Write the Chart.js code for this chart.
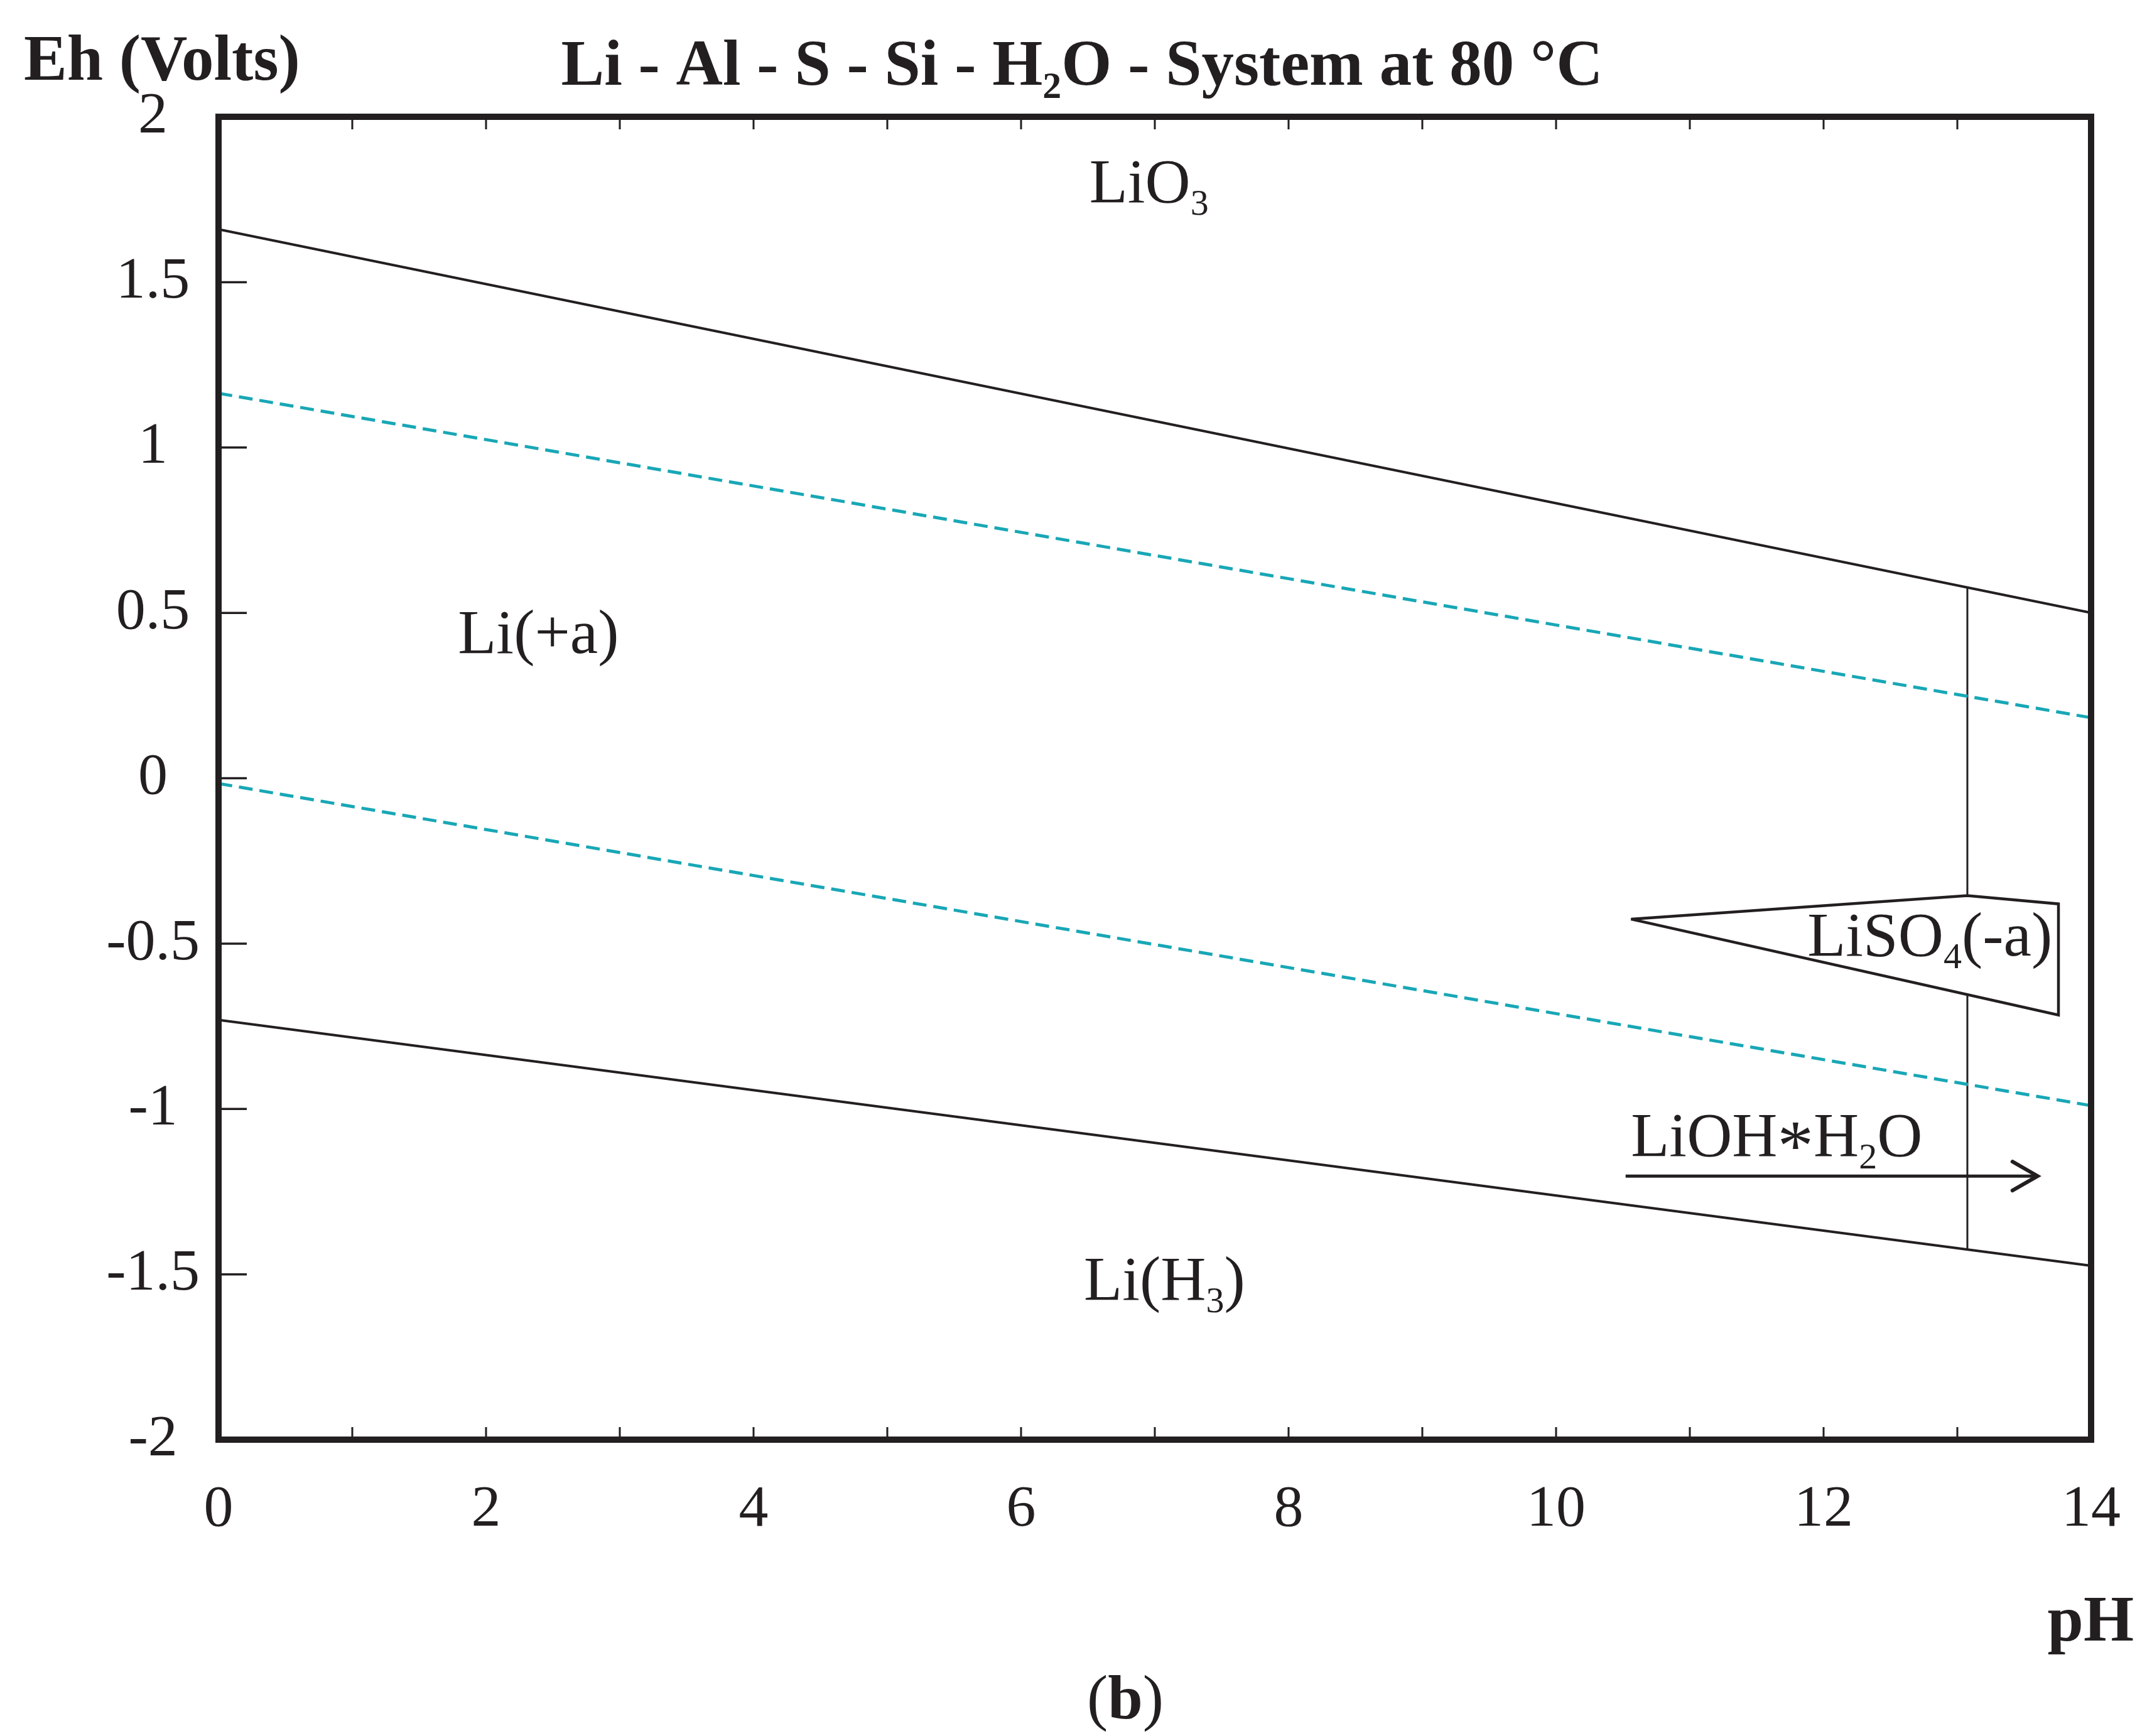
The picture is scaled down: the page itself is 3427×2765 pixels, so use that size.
<!DOCTYPE html>
<html>
<head>
<meta charset="utf-8">
<script src="https://cdn.jsdelivr.net/npm/chart.js@4.4.1/dist/chart.umd.min.js"></script>
<style>
  html, body { margin: 0; padding: 0; background: #ffffff; }
  #c { display: block; }
</style>
</head>
<body>
<canvas id="c" width="3427" height="2765" style="width:3427px;height:2765px"></canvas>
<script>
// ---------------- DATA ----------------
const xTickLabels = ['0', '2', '4', '6', '8', '10', '12', '14'];
const yTickLabels = ['-2', '-1.5', '-1', '-0.5', '0', '0.5', '1', '1.5', '2'];

// stability boundaries (pH, Eh)
const phEnds = [0, 14];
const ehLiO3Boundary = [1.66, 0.50];      // upper solid line
const ehLiH3Boundary = [-0.731, -1.474];  // lower solid line
const ehWaterUpper = [1.164, 0.183];      // dashed O2/H2O line
const ehWaterLower = [-0.016, -0.99];     // dashed H2O/H2 line

const phVertical = [13.075, 13.075];
const ehVerticalUpper = [0.577, -0.355];
const ehVerticalLower = [-0.654, -1.425];

const phLiSO4 = [10.56, 13.075, 13.756, 13.756, 10.56];
const ehLiSO4 = [-0.426, -0.355, -0.380, -0.716, -0.426];

const phArrow = [10.52, 13.60];
const ehArrow = [-1.203, -1.203];

// field labels
const fieldLabels = ['LiO_{3}', 'Li(+a)', 'LiSO_{4}(-a)', 'LiOH*H_{2}O', 'Li(H_{3})'];
const fieldPh = [6.51, 1.79, 13.71, 10.56, 6.47];
const fieldEh = [1.742, 0.379, -0.537, -1.142, -1.577];
const fieldAlign = ['left', 'left', 'right', 'left', 'left'];

const chartTitle = 'Li - Al - S - Si - H_{2}O - System at 80 °C';
const yAxisTitle = 'Eh (Volts)';
const xAxisTitle = 'pH';
const panelTag = '(b)';

// ---------------- HELPERS ----------------
const INK = '#231f20';
const CYAN = '#18a7b6';
const FONT = "'Liberation Serif', 'DejaVu Serif', serif";

function pts(xs, ys) { return xs.map((x, i) => ({ x: x, y: ys[i] })); }

function parseRich(s) {
  const parts = [];
  const re = /_\{([^}]*)\}/g;
  let last = 0, m;
  while ((m = re.exec(s)) !== null) {
    if (m.index > last) parts.push({ t: s.slice(last, m.index) });
    parts.push({ t: m[1], sub: true });
    last = re.lastIndex;
  }
  if (last < s.length) parts.push({ t: s.slice(last) });
  const out = [];
  parts.forEach(p => {
    if (!p.sub && p.t.indexOf('*') >= 0) {
      p.t.split(/(\*)/).forEach(q => { if (q) out.push({ t: q, dy: q === '*' ? 0.22 : 0, big: q === '*' }); });
    } else out.push(p);
  });
  return out;
}

function drawRich(ctx, text, x, y, size, weight, align) {
  const parts = parseRich(text);
  const fontOf = p => weight + ' ' + Math.round(p.sub ? size * 0.58 : (p.big ? size * 1.15 : size)) + 'px ' + FONT;
  let total = 0;
  parts.forEach(p => { ctx.font = fontOf(p); p.w = ctx.measureText(p.t).width; total += p.w; });
  let cx = align === 'center' ? x - total / 2 : (align === 'right' ? x - total : x);
  ctx.textAlign = 'left';
  ctx.textBaseline = 'alphabetic';
  parts.forEach(p => {
    ctx.font = fontOf(p);
    ctx.fillText(p.t, cx, y + (p.sub ? size * 0.2 : 0) + (p.dy || 0) * size);
    cx += p.w;
  });
}

// ---------------- PLUGIN ----------------
const decor = {
  id: 'decor',
  afterDatasetsDraw(chart) {
    const ctx = chart.ctx;
    const a = chart.chartArea;
    const xs = chart.scales.x, ys = chart.scales.y;
    ctx.save();
    ctx.fillStyle = INK;
    ctx.strokeStyle = INK;

    // arrow head at end of the arrow dataset
    const x1 = xs.getPixelForValue(phArrow[0]), y1 = ys.getPixelForValue(ehArrow[0]);
    const x2 = xs.getPixelForValue(phArrow[1]), y2 = ys.getPixelForValue(ehArrow[1]);
    const ang = Math.atan2(y2 - y1, x2 - x1);
    const hl = 40, hw = 23;
    ctx.lineWidth = 6;
    ctx.lineCap = 'round';
    ctx.lineJoin = 'miter';
    ctx.beginPath();
    ctx.moveTo(x2 - hl * Math.cos(ang) + hw * Math.sin(ang), y2 - hl * Math.sin(ang) - hw * Math.cos(ang));
    ctx.lineTo(x2, y2);
    ctx.lineTo(x2 - hl * Math.cos(ang) - hw * Math.sin(ang), y2 - hl * Math.sin(ang) + hw * Math.cos(ang));
    ctx.stroke();

    // frame
    const bw = 10;
    ctx.lineCap = 'butt';
    ctx.lineWidth = bw;
    ctx.strokeRect(a.left, a.top, a.right - a.left, a.bottom - a.top);

    // inward x ticks (top and bottom)
    ctx.lineWidth = 3;
    xs.ticks.forEach(t => {
      if (t.value <= xs.min || t.value >= xs.max) return;
      const px = xs.getPixelForValue(t.value);
      ctx.beginPath();
      ctx.moveTo(px, a.top + bw / 2); ctx.lineTo(px, a.top + bw / 2 + 15);
      ctx.moveTo(px, a.bottom - bw / 2); ctx.lineTo(px, a.bottom - bw / 2 - 15);
      ctx.stroke();
    });
    // inward y ticks (left)
    ctx.lineWidth = 3.5;
    ys.ticks.forEach(t => {
      if (t.value <= ys.min || t.value >= ys.max) return;
      const py = ys.getPixelForValue(t.value);
      ctx.beginPath();
      ctx.moveTo(a.left + bw / 2, py); ctx.lineTo(a.left + bw / 2 + 40, py);
      ctx.stroke();
    });

    // field labels
    fieldLabels.forEach((s, i) => {
      drawRich(ctx, s, xs.getPixelForValue(fieldPh[i]), ys.getPixelForValue(fieldEh[i]), 100, 'normal', fieldAlign[i]);
    });

    // titles
    drawRich(ctx, chartTitle, 1723, 135, 103, 'bold', 'center');
    drawRich(ctx, yAxisTitle, 38, 127, 103, 'bold', 'left');
    drawRich(ctx, xAxisTitle, 3398, 2613, 103, 'bold', 'right');
    // panel tag: "(" regular, "b" bold, ")" regular
    const tagParts = [['(', 'normal'], ['b', 'bold'], [')', 'normal']];
    let tw = 0;
    tagParts.forEach(p => { ctx.font = p[1] + ' 100px ' + FONT; p.push(ctx.measureText(p[0]).width); tw += p[2]; });
    let tx = 1792 - tw / 2;
    ctx.textAlign = 'left';
    tagParts.forEach(p => { ctx.font = p[1] + ' 100px ' + FONT; ctx.fillText(p[0], tx, 2737); tx += p[2]; });
    ctx.restore();
  }
};

// ---------------- CHART ----------------
const solid = (data, w) => ({ data: data, borderColor: INK, borderWidth: w, pointRadius: 0, showLine: true, fill: false, tension: 0 });
const dashed = (data) => ({ data: data, borderColor: CYAN, borderWidth: 5, borderDash: [22, 11], pointRadius: 0, showLine: true, fill: false, tension: 0 });

new Chart(document.getElementById('c'), {
  type: 'scatter',
  data: {
    datasets: [
      dashed(pts(phEnds, ehWaterUpper)),
      dashed(pts(phEnds, ehWaterLower)),
      solid(pts(phEnds, ehLiO3Boundary), 4),
      solid(pts(phEnds, ehLiH3Boundary), 4),
      solid(pts(phVertical, ehVerticalUpper), 3),
      solid(pts(phVertical, ehVerticalLower), 3),
      Object.assign(solid(pts(phLiSO4, ehLiSO4), 4.5), { borderJoinStyle: 'miter' }),
      solid(pts(phArrow, ehArrow), 5)
    ]
  },
  options: {
    responsive: false,
    devicePixelRatio: 1,
    animation: false,
    events: [],
    layout: { padding: { left: 0, right: 97, top: 186, bottom: 272 } },
    plugins: { legend: { display: false }, tooltip: { enabled: false }, title: { display: false } },
    scales: {
      x: {
        type: 'linear', position: 'bottom', min: 0, max: 14,
        afterFit: s => { s.height = 200; },
        border: { display: false },
        grid: { display: false },
        ticks: {
          stepSize: 1, autoSkip: false, maxRotation: 0, padding: 48,
          color: INK, font: { family: FONT, size: 94, lineHeight: 1.2 },
          callback: v => (v % 2 === 0 ? xTickLabels[v / 2] : '')
        }
      },
      y: {
        type: 'linear', position: 'left', min: -2, max: 2,
        afterFit: s => { s.width = 348; },
        border: { display: false },
        grid: { display: false },
        ticks: {
          stepSize: 0.5, autoSkip: false, padding: 22, crossAlign: 'center',
          color: INK, font: { family: FONT, size: 94 },
          callback: v => yTickLabels[Math.round((v + 2) * 2)]
        }
      }
    }
  },
  plugins: [decor]
});
</script>
</body>
</html>
